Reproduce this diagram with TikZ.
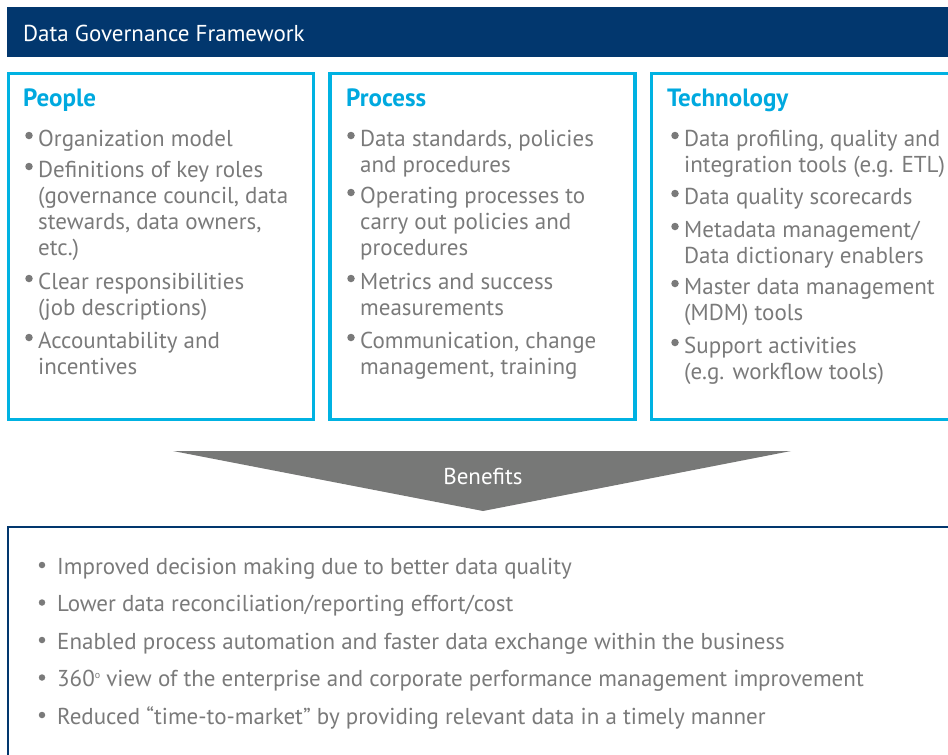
\documentclass[tikz,border=0pt]{standalone}
\usepackage{fontspec}
\setmainfont{PT Sans}
\definecolor{dblue}{HTML}{02376E}
\definecolor{cyanb}{HTML}{00B2E2}
\definecolor{ttlc}{HTML}{00A9DF}
\definecolor{txtg}{HTML}{7A7A7A}
\definecolor{arrg}{HTML}{777877}
\tikzset{
  pbox/.style={draw=cyanb,line width=3.5pt},
  ttl/.style={anchor=base west,inner sep=0pt,text=ttlc,font=\fontsize{25}{25}\selectfont\bfseries},
  txt/.style={anchor=base west,inner sep=0pt,text=txtg,font=\fontsize{23}{23}\selectfont},
  btxt/.style={anchor=base west,inner sep=0pt,text=txtg,font=\fontsize{23}{23}\selectfont},
  bul/.style={circle,fill=txtg,inner sep=0pt,minimum size=7.5pt},
  sbul/.style={circle,fill=txtg,inner sep=0pt,minimum size=6.5pt},
}
\begin{document}
\begin{tikzpicture}[x=1pt,y=-1pt]
\useasboundingbox (0,0) rectangle (948,755);
% header
\fill[dblue] (7,7) rectangle (960,57);
\node[anchor=base west,inner sep=0pt,text=white,font=\fontsize{23}{23}\selectfont] (hdr) at (23,41) {Data Governance Framework};
% boxes
\draw[pbox] (8.5,73.5) rectangle (313.5,419.5);
\draw[pbox] (330,73.5) rectangle (635,419.5);
\draw[pbox] (651.5,73.5) rectangle (960,419.5);
\node[ttl] (tp) at (23,106) {People};
\node[ttl] (tr) at (346,106) {Process};
\node[ttl] (tt) at (667,106) {Technology};
% People
\foreach \y/\t/\b [count=\i] in {
  146/{Organization model}/1,
  177/{Definitions of key roles}/1,
  203/{(governance council, data}/0,
  229/{stewards, data owners,}/0,
  255/{etc.)}/0,
  289/{Clear responsibilities}/1,
  315/{(job descriptions)}/0,
  348/{Accountability and}/1,
  374/{incentives}/0}{
  \node[txt] (p\i) at (38,\y) {\t};
  \ifnum\b=1 \node[bul] (pb\i) at (29,\y-10.5) {}; \fi
}
% Process
\foreach \y/\t/\b [count=\i] in {
  146/{Data standards, policies}/1,
  172/{and procedures}/0,
  203/{Operating processes to}/1,
  229/{carry out policies and}/0,
  255/{procedures}/0,
  289/{Metrics and success}/1,
  315/{measurements}/0,
  348/{Communication, change}/1,
  374/{management, training}/0}{
  \node[txt] (r\i) at (360,\y) {\t};
  \ifnum\b=1 \node[bul] (rb\i) at (351,\y-10.5) {}; \fi
}
% Technology
\foreach \y/\t/\b [count=\i] in {
  146/{Data profiling, quality and}/1,
  172/{integration tools (e.g. ETL)}/0,
  204/{Data quality scorecards}/1,
  237/{Metadata management/}/1,
  263/{Data dictionary enablers}/0,
  294/{Master data management}/1,
  320/{(MDM) tools}/0,
  353/{Support activities}/1,
  379/{(e.g. workflow tools)}/0}{
  \node[txt] (t\i) at (684,\y) {\t};
  \ifnum\b=1 \node[bul] (tb\i) at (675,\y-10.5) {}; \fi
}
% arrow
\fill[arrg] (173,451) -- (791,451) -- (483,511) -- cycle;
\node[anchor=base,inner sep=0pt,text=white,font=\fontsize{23}{23}\selectfont] (ben) at (483,484) {Benefits};
% benefits box
\draw[dblue,line width=2.5pt] (8,527) rectangle (960,770);
\foreach \y/\t [count=\i] in {
  574/{Improved decision making due to better data quality},
  611.5/{Lower data reconciliation/reporting effort/cost},
  649/{Enabled process automation and faster data exchange within the business},
  686.5/{360\raisebox{8pt}{\fontsize{10}{10}\selectfont o} view of the enterprise and corporate performance management improvement},
  724/{Reduced “time-to-market” by providing relevant data in a timely manner}}{
  \node[btxt] (b\i) at (57,\y) {\t};
  \node[sbul] (bb\i) at (42,\y-9) {};
}
\end{tikzpicture}
\end{document}
